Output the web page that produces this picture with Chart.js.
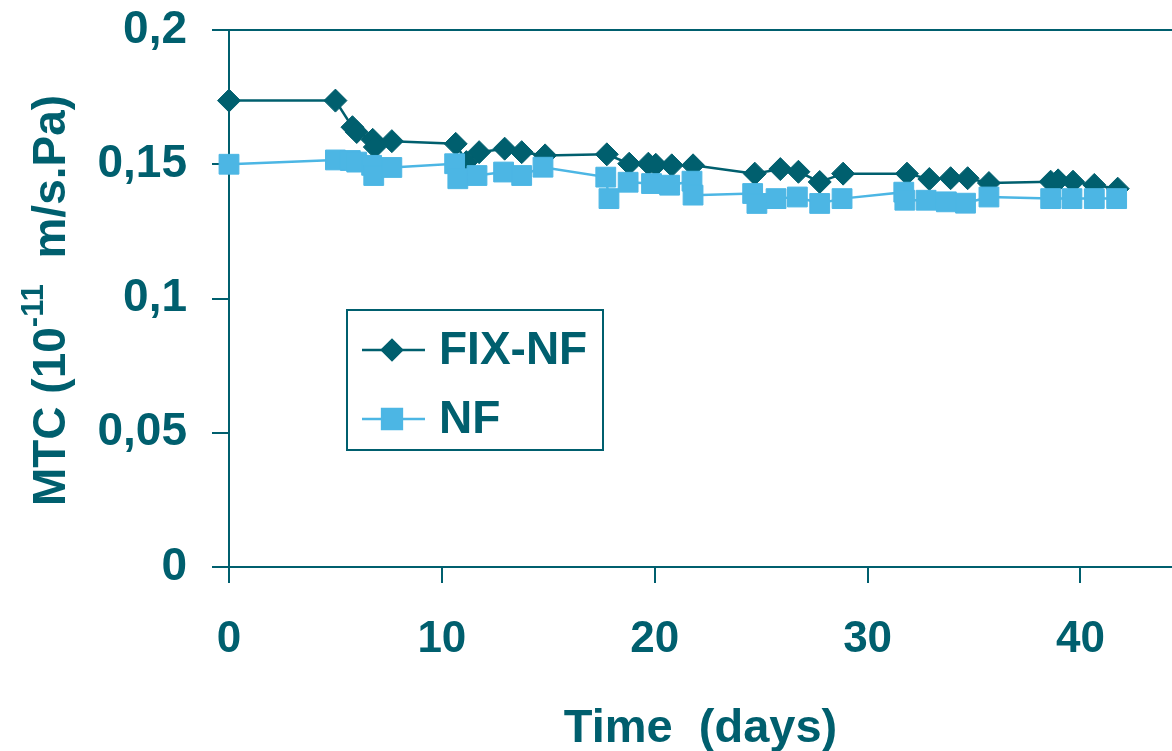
<!DOCTYPE html>
<html><head><meta charset="utf-8">
<script src="https://cdn.jsdelivr.net/npm/chart.js@4/dist/chart.umd.min.js"></script>
<style>html,body{margin:0;padding:0;background:#fff;}#c{display:block;}</style>
</head><body>
<canvas id="c" width="1172" height="751"></canvas>
<script>
// ---- data ----
const fixDays = [0,5,5.8,6,6.75,6.85,7.65,10.65,11.15,11.75,12.95,13.75,14.85,17.75,18.8,19.7,20.05,20.8,21.8,24.7,25.9,26.75,27.75,28.85,31.85,32.9,33.9,34.7,35.7,38.6,38.95,39.65,40.65,41.75];
const fixMTC  = [0.1737,0.1737,0.1638,0.1620,0.1591,0.1564,0.1586,0.1576,0.1508,0.1545,0.1558,0.1545,0.1533,0.1537,0.1502,0.1502,0.1498,0.1496,0.1496,0.1465,0.1482,0.1472,0.1434,0.1465,0.1465,0.1445,0.1448,0.1448,0.1430,0.1435,0.1440,0.1435,0.1423,0.1409];
const nfDays  = [0,5,5.7,6.0,6.7,6.8,7.65,10.6,10.75,11.65,12.9,13.75,14.75,17.7,17.85,18.75,19.85,20.7,21.75,21.8,24.6,24.8,25.7,26.7,27.75,28.8,31.7,31.75,32.75,33.7,34.6,35.7,38.6,39.6,40.65,41.7];
const nfMTC   = [0.1500,0.1516,0.1514,0.1508,0.1496,0.1458,0.1488,0.1502,0.1446,0.1458,0.1471,0.1458,0.1489,0.1452,0.1372,0.1433,0.1428,0.1422,0.1437,0.1385,0.1391,0.1354,0.1372,0.1378,0.1354,0.1372,0.1396,0.1366,0.1366,0.1360,0.1355,0.1378,0.1372,0.1372,0.1372,0.1372];
const seriesNames = ['FIX-NF', 'NF'];
const yTickLabels = ['0', '0,05', '0,1', '0,15', '0,2'];
const xTickLabels = ['0', '10', '20', '30', '40'];
const xTitle = 'Time  (days)';
const yTitleParts = ['MTC (10', '-11', '  m/s.Pa)'];

// ---- styles ----
const TEAL = '#005F6E', BLUE = '#4CB6E4';
const FONT = '"Liberation Sans", Arial, sans-serif';

const toXY = (xs, ys) => xs.map((x, i) => ({x: x, y: ys[i]}));

const yTitlePlugin = {
  id: 'yTitle',
  afterDraw(chart) {
    const ctx = chart.ctx;
    const big = 'bold 46px ' + FONT, small = 'bold 31px ' + FONT;
    ctx.save();
    ctx.fillStyle = TEAL;
    ctx.textBaseline = 'alphabetic';
    ctx.textAlign = 'left';
    ctx.font = big; const w0 = ctx.measureText(yTitleParts[0]).width, w2 = ctx.measureText(yTitleParts[2]).width;
    ctx.font = small; const w1 = ctx.measureText(yTitleParts[1]).width;
    const total = w0 + w1 + w2;
    const cy = (chart.chartArea.top + chart.chartArea.bottom) / 2 + 2;
    ctx.translate(65, cy);
    ctx.rotate(-Math.PI / 2);
    let x = -total / 2;
    ctx.font = big; ctx.fillText(yTitleParts[0], x, 0); x += w0;
    ctx.font = small; ctx.fillText(yTitleParts[1], x, -22); x += w1;
    ctx.font = big; ctx.fillText(yTitleParts[2], x, 0);
    ctx.restore();
  }
};

const legendPlugin = {
  id: 'boxLegend',
  afterDraw(chart) {
    const ctx = chart.ctx;
    ctx.save();
    ctx.strokeStyle = TEAL; ctx.lineWidth = 2;
    ctx.strokeRect(347, 310, 256, 140);
    const rows = [350, 419];
    chart.data.datasets.forEach((ds, i) => {
      const y = rows[i];
      ctx.strokeStyle = ds.borderColor; ctx.lineWidth = ds.borderWidth;
      ctx.beginPath(); ctx.moveTo(362, y); ctx.lineTo(425, y); ctx.stroke();
      ctx.fillStyle = ds.pointBackgroundColor; ctx.strokeStyle = ds.pointBorderColor;
      Chart.helpers.drawPoint(ctx, {pointStyle: ds.pointStyle, radius: ds.legendRadius, rotation: 0, borderWidth: 1}, 392, y);
      ctx.fillStyle = TEAL; ctx.font = 'bold 46px ' + FONT;
      ctx.textBaseline = 'middle'; ctx.textAlign = 'left';
      ctx.fillText(ds.label, 439, y + 1);
    });
    ctx.restore();
  }
};

new Chart(document.getElementById('c'), {
  type: 'scatter',
  data: {
    datasets: [
      {
        label: seriesNames[0], data: toXY(fixDays, fixMTC), showLine: true,
        borderColor: TEAL, borderWidth: 2.5, pointStyle: 'rectRot', pointRadius: 11.5,
        pointBackgroundColor: TEAL, pointBorderColor: TEAL, pointBorderWidth: 1,
        legendRadius: 10, order: 2, clip: false
      },
      {
        label: seriesNames[1], data: toXY(nfDays, nfMTC), showLine: true,
        borderColor: BLUE, borderWidth: 2.5, pointStyle: 'rect', pointRadius: 14,
        pointBackgroundColor: BLUE, pointBorderColor: BLUE, pointBorderWidth: 1,
        legendRadius: 14, order: 1, clip: false
      }
    ]
  },
  options: {
    responsive: false, animation: false,
    layout: {autoPadding: false, padding: {top: 30, left: 0, right: 0, bottom: 0}},
    plugins: {legend: {display: false}, tooltip: {enabled: false}},
    elements: {line: {tension: 0}},
    scales: {
      x: {
        type: 'linear', min: 0, max: 44.3,
        afterFit: s => { s.height = 184; s.paddingLeft = 0; s.paddingRight = 0; },
        border: {display: true, color: TEAL, width: 2},
        grid: {drawOnChartArea: false, drawTicks: true, tickLength: 16, tickColor: TEAL, lineWidth: 2},
        ticks: {
          stepSize: 10, includeBounds: false, padding: 30, color: TEAL, maxRotation: 0,
          font: {family: FONT, size: 44, weight: 'bold'},
          callback: (v, i) => xTickLabels[i]
        },
        title: {display: true, text: xTitle, color: TEAL, padding: {top: 0, bottom: 0},
          font: {family: FONT, size: 47, weight: 'bold', lineHeight: 0.95}}
      },
      y: {
        type: 'linear', min: 0, max: 0.2,
        afterFit: s => { s.width = 229; s.paddingTop = 0; s.paddingBottom = 0; },
        border: {display: true, color: TEAL, width: 2},
        grid: {
          drawOnChartArea: true, drawTicks: true, tickLength: 17, tickColor: TEAL, lineWidth: 2,
          color: c => (c.tick && Math.abs(c.tick.value - 0.2) < 1e-9) ? TEAL : 'rgba(0,0,0,0)'
        },
        ticks: {
          stepSize: 0.05, padding: 25, color: TEAL,
          font: {family: FONT, size: 46, weight: 'bold'},
          callback: (v, i) => yTickLabels[i]
        },
        title: {display: false}
      }
    }
  },
  plugins: [yTitlePlugin, legendPlugin]
});
</script>
</body></html>
